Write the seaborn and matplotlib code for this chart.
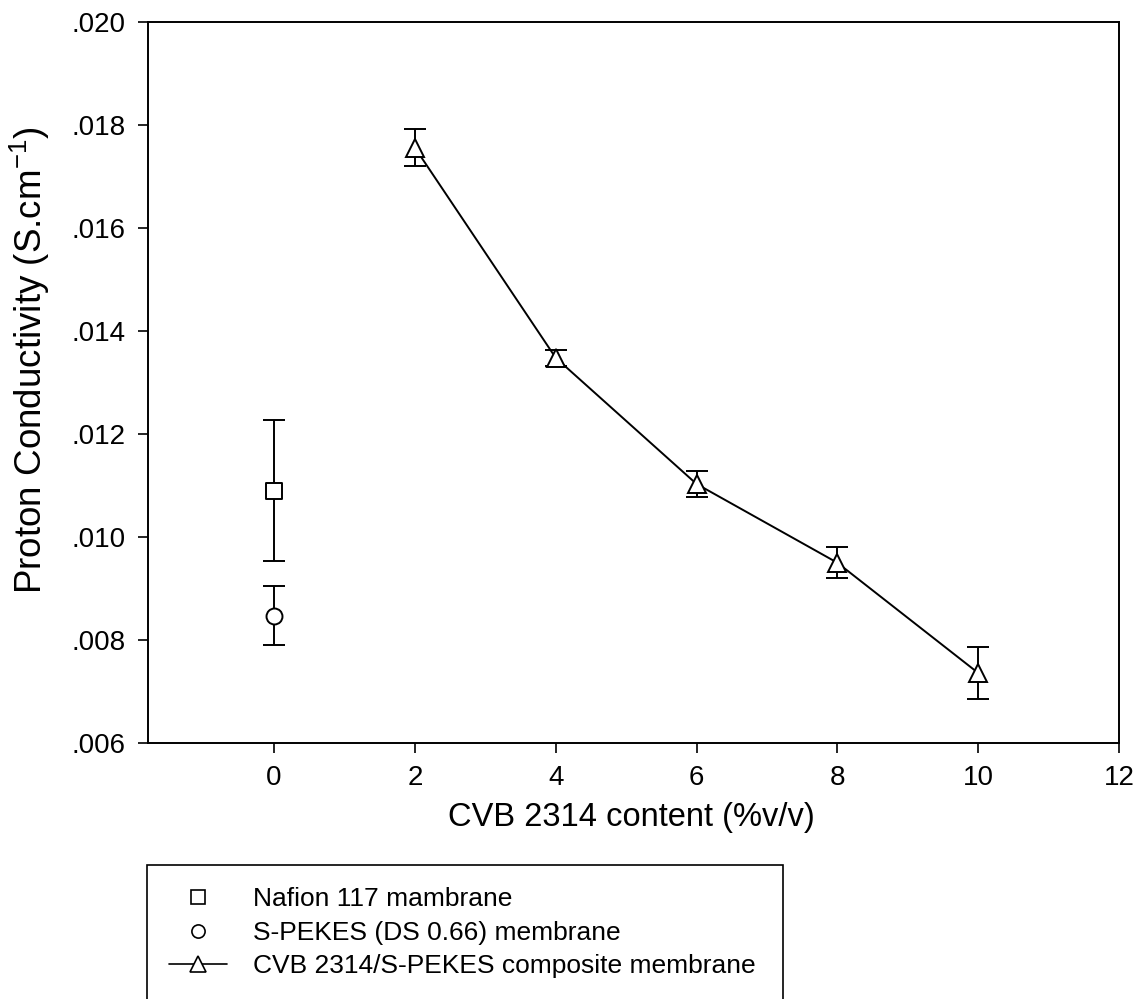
import matplotlib
matplotlib.use("Agg")
import numpy as np
import pandas as pd
import matplotlib.pyplot as plt
from matplotlib.lines import Line2D
from matplotlib.ticker import FuncFormatter
import seaborn as sns

# Values
content = [2, 4, 6, 8, 10]
composite = [0.01756, 0.01348, 0.01103, 0.00950, 0.00736]
composite_err = [0.00036, 0.00015, 0.00025, 0.00030, 0.00050]

nafion_x = [0]
nafion = [0.01090]
nafion_err = [0.00137]

spekes_x = [0]
spekes = [0.00847]
spekes_err = [0.00057]

legend_labels = ["Nafion 117 mambrane",
                 "S-PEKES (DS 0.66) membrane",
                 "CVB 2314/S-PEKES composite membrane"]
x_ticks = [0, 2, 4, 6, 8, 10, 12]
y_ticks = [0.006, 0.008, 0.010, 0.012, 0.014, 0.016, 0.018, 0.020]

sns.set_style("ticks")
plt.rcParams['font.family'] = ['Liberation Sans', 'DejaVu Sans']
plt.rcParams['mathtext.default'] = 'regular'
plt.rcParams['text.color'] = 'black'
plt.rcParams['axes.labelcolor'] = 'black'

W, H = 1139, 999
fig = plt.figure(figsize=(W / 100, H / 100), dpi=100)
ax = fig.add_axes([148 / W, 1 - 743 / H, (1119 - 148) / W, (743 - 22) / H])

lw = 1.4

# error bars first so markers sit on top
ax.errorbar(content, composite, yerr=composite_err, fmt='none', ecolor='black',
            elinewidth=lw, capsize=8, capthick=lw, zorder=2)
ax.errorbar(nafion_x, nafion, yerr=nafion_err, fmt='none', ecolor='black',
            elinewidth=lw, capsize=8, capthick=lw, zorder=2)
ax.errorbar(spekes_x, spekes, yerr=spekes_err, fmt='none', ecolor='black',
            elinewidth=lw, capsize=8, capthick=lw, zorder=2)

df = pd.DataFrame({"content": content, "cond": composite})
sns.lineplot(data=df, x="content", y="cond", ax=ax, color="black", lw=lw,
             marker="^", markersize=13, markerfacecolor="white",
             markeredgecolor="black", markeredgewidth=lw, zorder=3)
sns.scatterplot(x=nafion_x, y=nafion, ax=ax, marker="s", s=11.5 ** 2,
                color="white", edgecolor="black", linewidth=lw, zorder=4)
sns.scatterplot(x=spekes_x, y=spekes, ax=ax, marker="o", s=11.5 ** 2,
                color="white", edgecolor="black", linewidth=lw, zorder=4)

ax.set_xlim(-1.79, 12)
ax.set_ylim(0.006, 0.020)
ax.set_xticks(x_ticks)
ax.set_yticks(y_ticks)
ax.yaxis.set_major_formatter(FuncFormatter(lambda v, p: f"{v:.3f}".lstrip("0")))
ax.tick_params(direction="out", length=7, width=1.2, labelsize=20, pad=9,
               colors="black", labelcolor="black")
for s in ax.spines.values():
    s.set_linewidth(lw)
    s.set_color("black")

ax.set_xlabel("CVB 2314 content (%v/v)", fontsize=23.5)
ax.set_ylabel("Proton Conductivity (S.cm$^{-1}$)", fontsize=26.5)
ax.xaxis.set_label_coords(0.498, -0.082)
ax.yaxis.set_label_coords(-0.099, 0.531)

handles = [
    Line2D([], [], ls="none", marker="s", ms=9.5, mfc="white", mec="black", mew=1.2),
    Line2D([], [], ls="none", marker="o", ms=9.5, mfc="white", mec="black", mew=1.2),
    Line2D([], [], color="black", lw=1.2, marker="^", ms=12, mfc="white", mec="black", mew=1.2),
]
leg = ax.legend(handles, legend_labels, loc="upper left", mode="expand",
                bbox_to_anchor=(147 / W, 0, (783 - 147) / W, 1 - 865 / H),
                bbox_transform=fig.transFigure, fontsize=19, frameon=True,
                fancybox=False, framealpha=1, edgecolor="black",
                handlelength=2.2, handletextpad=0.95, labelspacing=0.36,
                borderpad=0.85, borderaxespad=0)
leg.get_frame().set_linewidth(1.2)

fig.savefig("out.png", dpi=100)
